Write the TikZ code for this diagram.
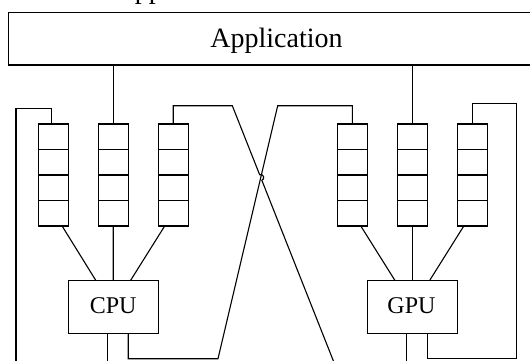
\documentclass[tikz,border=0pt]{standalone}
\usepackage{fontspec}
\setmainfont{Liberation Serif}
\usetikzlibrary{calc}
\tikzset{
  queue/.style={draw, minimum width=30pt, minimum height=102pt, inner sep=0pt, outer sep=0pt,
    path picture={\foreach \k in {1,2,3}{\draw ($(path picture bounding box.north west)!\k/4!(path picture bounding box.south west)$) -- ($(path picture bounding box.north east)!\k/4!(path picture bounding box.south east)$);}}},
  proc/.style={draw, minimum width=90pt, minimum height=53pt, inner sep=0pt, outer sep=0pt},
  bigtext/.style={font=\fontsize{28}{30}\selectfont, inner sep=0pt},
  proctext/.style={font=\fontsize{24}{26}\selectfont, inner sep=0pt}
}
\begin{document}
\begin{tikzpicture}[x=1pt,y=-1pt,line width=1.1pt]
\useasboundingbox (0,0) rectangle (530,360);
\clip (0,0) rectangle (530,360);
% fragment of text above
\node[bigtext, anchor=base west] (toptext) at (114,-1.7) {Application};
% application box
\node[draw, minimum width=536.5pt, minimum height=52.5pt, inner sep=0pt, outer sep=0pt, anchor=north west] (app) at (8.5,12.5) {};
\node[bigtext, anchor=base] (apptext) at (276.5,47.3) {Application};
% queues
\node[queue] (q1) at (53.6,175) {};
\node[queue] (q2) at (113.3,175) {};
\node[queue] (q3) at (173.2,175) {};
\node[queue] (g1) at (352.3,175) {};
\node[queue] (g2) at (412.3,175) {};
\node[queue] (g3) at (472.3,175) {};
% processors
\node[proc] (cpu) at (113.2,306.7) {};
\node[proctext, anchor=base] (cputext) at (113.2,313.3) {CPU};
\node[proc] (gpu) at (412.3,306.7) {};
\node[proctext, anchor=base] (gputext) at (411.5,313.3) {GPU};
% application to queues
\draw (q2.north) -- (q2.north |- app.south);
\draw (g2.north) -- (g2.north |- app.south);
% queues to processors
\draw ([xshift=8.5pt]q1.south) -- ([xshift=-17.5pt]cpu.north);
\draw (q2.south) -- (cpu.north);
\draw ([xshift=-8.5pt]q3.south) -- ([xshift=17.5pt]cpu.north);
\draw ([xshift=8.5pt]g1.south) -- ([xshift=-17.5pt]gpu.north);
\draw (g2.south) -- (gpu.north);
\draw ([xshift=-8.5pt]g3.south) -- ([xshift=17.5pt]gpu.north);
% coordinates
\coordinate (bot) at (0,366);
\coordinate (l1) at (16,108.3);
\coordinate (l0) at (16,366);
\coordinate (d1b) at (218,358.7);
\coordinate (d1t) at (277.7,105.7);
\coordinate (d2t) at (232.3,105.7);
\coordinate (d2b) at (335.4,366);
\coordinate (r1b) at (516.7,358.7);
\coordinate (r1t) at (516.7,103.3);
\coordinate (X) at (intersection of d2t--d2b and d1t--d1b);
% left loop
\draw ([xshift=-2pt]q1.north) |- (l1) -- (l0);
% cpu bottom lines
\draw ([xshift=-6pt]cpu.south) -- ([xshift=-6pt]cpu.south |- bot);
\draw ([xshift=15pt]cpu.south) |- (d1b) -- (d1t) -| (g1.north);
% crossing line with hop
\draw (q3.north) |- (d2t) -- ($(X)!3pt!(d2t)$) arc[start angle=111.6, end angle=-68.4, radius=3pt] -- (d2b);
% gpu bottom lines
\draw ([xshift=-5.5pt]gpu.south) -- ([xshift=-5.5pt]gpu.south |- bot);
\draw ([xshift=15pt]gpu.south) |- (r1b) -- (r1t) -| (g3.north);
\end{tikzpicture}
\end{document}
